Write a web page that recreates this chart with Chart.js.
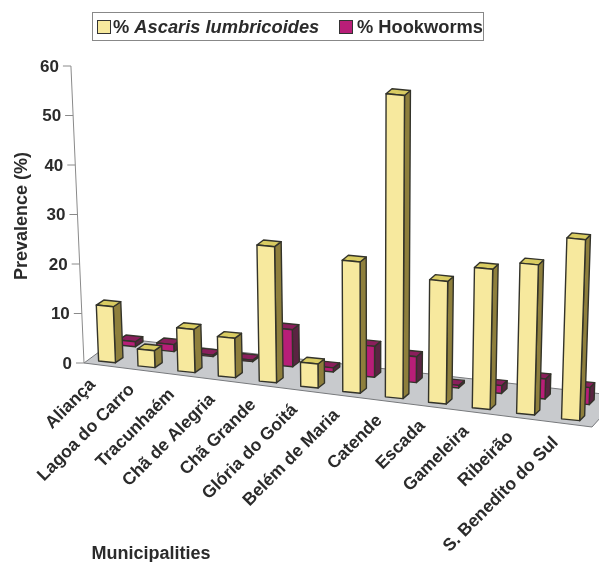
<!DOCTYPE html>
<html>
<head>
<meta charset="utf-8">
<style>
    body { margin: 0; background: #fff; }
    #wrap { position: relative; width: 599px; height: 562px; overflow: hidden; }
    #legend {
        position: absolute; left: 92px; top: 12px; width: 390px; height: 27px;
        border: 1px solid #888; font: bold 18.3px "Liberation Sans", Arial, sans-serif;
        color: #2b2b2b; white-space: nowrap; line-height: 27px;
    }
    #legend span { position: absolute; top: 0; }
    #legend b { position: absolute; top: 7px; width: 12px; height: 12px; border: 1px solid #333; }
</style>
</head>
<body>
<div id="wrap">
    <canvas id="chart" width="599" height="562"></canvas>
    <div id="legend">
        <b style="left:4px;background:#f7e99e"></b><span style="left:20px">% <i>Ascaris lumbricoides</i></span>
        <b style="left:246px;background:#b81e78"></b><span style="left:264px">% Hookworms</span>
    </div>
</div>
<script src="https://cdn.jsdelivr.net/npm/chart.js@4/dist/chart.umd.min.js"></script>
<script>
    var municipalities = ['Aliança', 'Lagoa do Carro', 'Tracunhaém', 'Chã de Alegria', 'Chã Grande', 'Glória do Goitá',
        'Belém de Maria', 'Catende', 'Escada', 'Gameleira', 'Ribeirão', 'S. Benedito do Sul'];
    var ascaris = [11.3, 3.4, 8.6, 7.8, 26.8, 4.7, 25.5, 58.5, 23.5, 26.7, 28.4, 34];
    var hookworms = [1.0, 1.4, 0.3, 0.3, 7.3, 0.8, 6, 5, 0.5, 1.5, 3.8, 3.2];

    var TEXT = '#2b2b2b';
    var FONT = '"Liberation Sans", Arial, sans-serif';
    var PERSP = 0.07;      // 往右靠近鏡頭的程度
    var FLOOR_SLOPE = 0.125;

    // 每個系列三個面的顏色
    var faces = [
        { front: '#f7e99e', top: '#d9cc62', side: '#8e7f3c' },
        { front: '#b81e78', top: '#8a1f5c', side: '#5a2442' }
    ];

    // 頂端因透視往外傾斜
    function lean(x, h) {
        return x + (x - 370) * h / 6500;
    }

    function poly(ctx, pts, fill) {
        ctx.beginPath();
        ctx.moveTo(pts[0][0], pts[0][1]);
        for (var i = 1; i < pts.length; i++) {
            ctx.lineTo(pts[i][0], pts[i][1]);
        }
        ctx.closePath();
        ctx.fillStyle = fill;
        ctx.fill();
        ctx.stroke();
    }

    // 由 scale 算出的 bar 元素換成透視後的位置
    function place(chart, el, row) {
        var xs = chart.scales.x, ys = chart.scales.y;
        var first = xs.getPixelForValue(0);
        var span = xs.getPixelForValue(municipalities.length - 1) - first;
        var t = (el.x - first) / span;
        var s = 1 / (1 - PERSP * t);
        var left = first + span * t * (1 - PERSP) * s - el.width / 2;
        var base = ys.getPixelForValue(0) - 2 + FLOOR_SLOPE * (left - (first - el.width / 2));
        if (row === 1) {
            left += 20 - 10.5 * t;
            base -= 16;
        }
        return {
            left: left, base: base, width: el.width * s,
            height: (ys.getPixelForValue(0) - el.y) * s,
            depth: 7.5 - 2.5 * t
        };
    }

    function drawBar(ctx, b, color) {
        var rise = b.width * 0.1;
        var dx = b.depth, dy = -5;
        var x0 = b.left, x1 = b.left + b.width;
        var tl = [lean(x0, b.height), b.base - b.height];
        var tr = [lean(x1, b.height), b.base + rise - b.height];
        var bl = [x0, b.base], br = [x1, b.base + rise];

        ctx.strokeStyle = '#33332a';
        ctx.lineWidth = 1.4;
        ctx.lineJoin = 'round';
        poly(ctx, [br, [br[0] + dx, br[1] + dy], [tr[0] + dx, tr[1] + dy], tr], color.side);
        poly(ctx, [tl, tr, [tr[0] + dx, tr[1] + dy], [tl[0] + dx, tl[1] + dy]], color.top);
        poly(ctx, [bl, br, tr, tl], color.front);
    }

    function drawFloor(chart) {
        var ctx = chart.ctx, zero = chart.scales.y.getPixelForValue(0), left = chart.scales.x.left - 2;
        ctx.strokeStyle = '#77797c';
        ctx.lineWidth = 1;
        ctx.lineJoin = 'miter';
        poly(ctx, [
            [left, zero],
            [left + 508, zero + 64],
            [left + 536, zero + 33],
            [left + 34, zero - 25]
        ], '#c8cacd');
    }

    function drawAxis(chart) {
        var ctx = chart.ctx, ys = chart.scales.y, zero = ys.getPixelForValue(0), axisX = chart.scales.x.left - 2;
        ctx.strokeStyle = '#8a8a8a';
        ctx.lineWidth = 1;
        ctx.beginPath();
        ctx.moveTo(axisX, zero);
        ctx.lineTo(lean(axisX, zero - ys.top), ys.top);
        ctx.stroke();

        ctx.fillStyle = TEXT;
        ctx.font = 'bold 17px ' + FONT;
        ctx.textAlign = 'right';
        ctx.textBaseline = 'middle';
        ys.ticks.forEach(function(tick) {
            var y = ys.getPixelForValue(tick.value);
            var x = lean(axisX, zero - y);
            ctx.beginPath();
            ctx.moveTo(x - 8, y);
            ctx.lineTo(x, y);
            ctx.stroke();
            ctx.fillText(String(tick.value), x - 12, y + 1);
        });
    }

    function drawText(chart) {
        var ctx = chart.ctx;
        var meta = chart.getDatasetMeta(0);
        ctx.fillStyle = TEXT;
        ctx.textBaseline = 'middle';

        // 類別標籤,轉 45 度
        ctx.font = 'bold 17.5px ' + FONT;
        ctx.textAlign = 'right';
        municipalities.forEach(function(name, i) {
            var b = place(chart, meta.data[i], 0);
            ctx.save();
            ctx.translate(b.left - 6, b.base + 21);
            ctx.rotate(-Math.PI / 4);
            ctx.fillText(name, 0, 0);
            ctx.restore();
        });

        ctx.textAlign = 'center';
        ctx.font = 'bold 18px ' + FONT;
        ctx.fillText('Municipalities', 151, 554);
        ctx.save();
        ctx.translate(22, 216);
        ctx.rotate(-Math.PI / 2);
        ctx.fillText('Prevalence (%)', 0, 0);
        ctx.restore();
    }

    var bars3d = {
        id: 'bars3d',
        beforeDatasetsDraw: function(chart) {
            var ctx = chart.ctx;
            ctx.save();
            drawFloor(chart);
            drawAxis(chart);
            // 後排先畫
            [1, 0].forEach(function(row) {
                chart.getDatasetMeta(row).data.forEach(function(el) {
                    drawBar(ctx, place(chart, el, row), faces[row]);
                });
            });
            drawText(chart);
            ctx.restore();
            return false;
        }
    };

    new Chart(document.getElementById('chart'), {
        type: 'bar',
        data: {
            labels: municipalities,
            datasets: [
                { label: '% Ascaris lumbricoides', data: ascaris, backgroundColor: faces[0].front },
                { label: '% Hookworms', data: hookworms, backgroundColor: faces[1].front }
            ]
        },
        options: {
            responsive: false,
            animation: false,
            devicePixelRatio: 1,
            grouped: false,
            barPercentage: 0.4,
            categoryPercentage: 1,
            layout: { padding: { left: 86, right: 8, top: 66, bottom: 199 } },
            plugins: { legend: { display: false }, tooltip: { enabled: false } },
            scales: {
                x: { display: false },
                y: { display: false, min: 0, max: 60, ticks: { stepSize: 10 } }
            }
        },
        plugins: [bars3d]
    });
</script>
</body>
</html>
